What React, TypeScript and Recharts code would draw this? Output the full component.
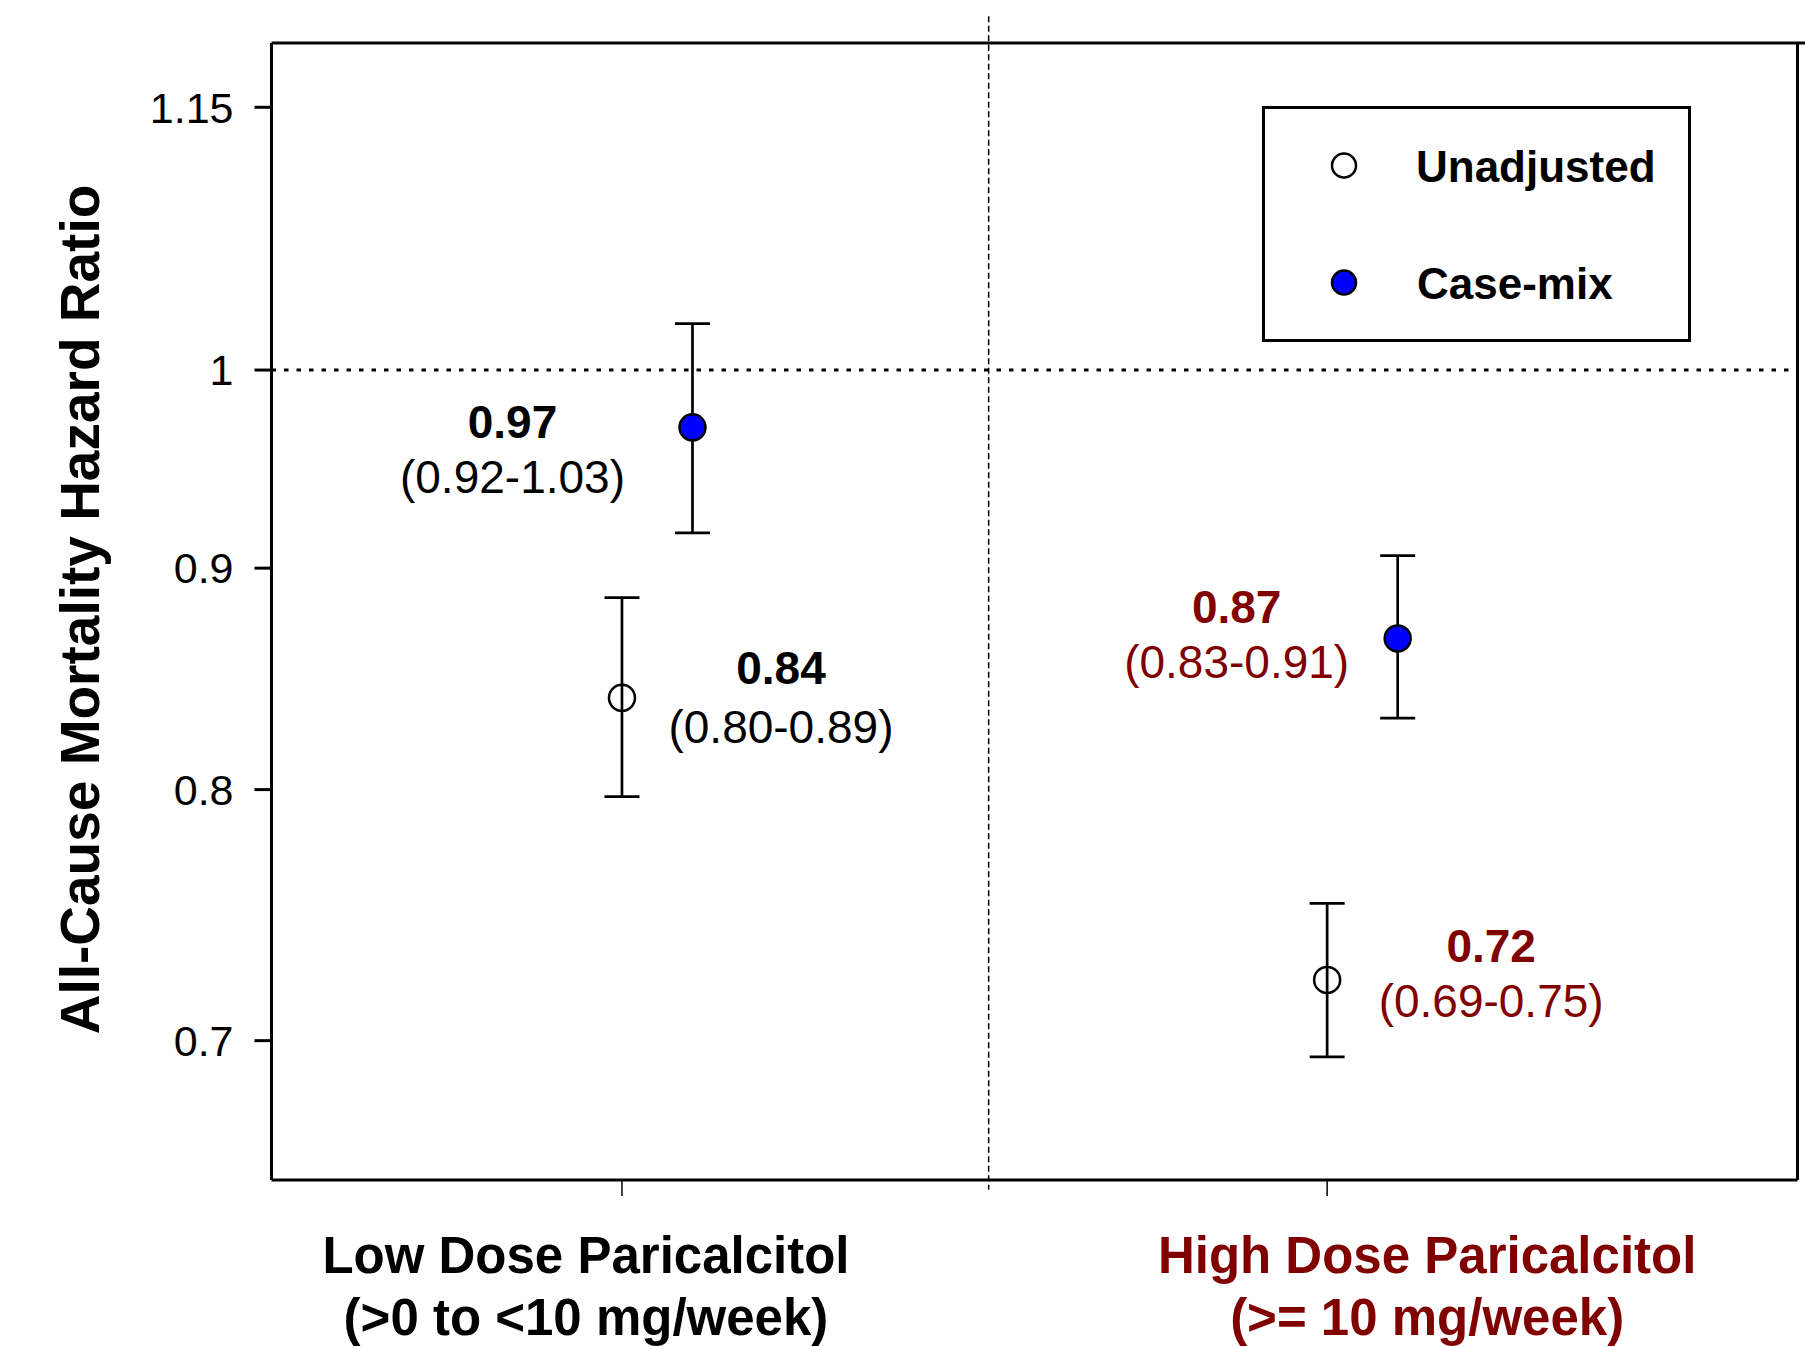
import { ScatterChart, Scatter, XAxis, YAxis, ErrorBar, ReferenceLine, Legend } from "recharts";

// groups on the x axis
const groupNames = ["Low Dose Paricalcitol", "High Dose Paricalcitol"];
const groupDoses = ["(>0 to <10 mg/week)", "(>= 10 mg/week)"];
const groupPos = [1, 2];

// unadjusted hazard ratios
const unadjustedHR = [0.84, 0.723];
const unadjustedLower = [0.797, 0.694];
const unadjustedUpper = [0.886, 0.753];
const unadjustedText = ["0.84", "0.72"];
const unadjustedCI = ["(0.80-0.89)", "(0.69-0.75)"];

// case-mix adjusted hazard ratios
const caseMixHR = [0.97, 0.867];
const caseMixLower = [0.917, 0.831];
const caseMixUpper = [1.025, 0.906];
const caseMixText = ["0.97", "0.87"];
const caseMixCI = ["(0.92-1.03)", "(0.83-0.91)"];

const yTicks = [0.7, 0.8, 0.9, 1, 1.15];
const seriesNames = ["Unadjusted", "Case-mix"];

const FONT = '"Liberation Sans", Arial, Helvetica, sans-serif';
const DARK_RED = "#800000";
const groupColors = ["#000000", DARK_RED];
const CASE_SHIFT = 0.1;
const X_DOMAIN = [0.503, 2.667];
const Y_DOMAIN = [0.65, 1.19];

const build = (
  hr: number[],
  lo: number[],
  hi: number[],
  txt: string[],
  ci: string[],
  shift: number
) =>
  hr.map((v, i) => ({
    x: groupPos[i] + shift,
    y: v,
    err: [v - lo[i], hi[i] - v],
    hrText: txt[i],
    ciText: ci[i],
    group: i,
  }));

const unadjustedData = build(unadjustedHR, unadjustedLower, unadjustedUpper, unadjustedText, unadjustedCI, 0);
const caseMixData = build(caseMixHR, caseMixLower, caseMixUpper, caseMixText, caseMixCI, CASE_SHIFT);

// label offsets relative to each point
const unadjustedLabelPos = [
  { dx: 159, dy1: -14, dy2: 45 },
  { dx: 164, dy1: -18, dy2: 37 },
];
const caseMixLabelPos = [
  { dx: -180, dy1: 11, dy2: 66 },
  { dx: -161, dy1: -15, dy2: 40 },
];

const makeShape =
  (fill: string, labelPos: { dx: number; dy1: number; dy2: number }[]) =>
  // eslint-disable-next-line @typescript-eslint/no-explicit-any
  (props: any) => {
    const { cx, cy, payload } = props;
    const p = labelPos[payload.group];
    const color = groupColors[payload.group];
    return (
      <g>
        <circle cx={cx} cy={cy} r={13} fill={fill} stroke="#000" strokeWidth={2.5} />
        <text x={cx + p.dx} y={cy + p.dy1} textAnchor="middle" fontWeight="bold" fontSize={46} fill={color}>
          {payload.hrText}
        </text>
        <text x={cx + p.dx} y={cy + p.dy2} textAnchor="middle" fontSize={46} fill={color}>
          {payload.ciText}
        </text>
      </g>
    );
  };

const xLabelShift = [-36, 100];

// eslint-disable-next-line @typescript-eslint/no-explicit-any
const XTick = (props: any) => {
  const { x, y, index } = props;
  const i = index ?? 0;
  return (
    <g>
      <text x={x + xLabelShift[i]} y={y + 77} textAnchor="middle" fontWeight="bold" fontSize={51} fill={groupColors[i]}>
        {groupNames[i]}
      </text>
      <text x={x + xLabelShift[i]} y={y + 139} textAnchor="middle" fontWeight="bold" fontSize={51} fill={groupColors[i]}>
        {groupDoses[i]}
      </text>
    </g>
  );
};

const LegendBox = () => (
  <svg width={430} height={237} style={{ display: "block" }}>
    <rect x={1.5} y={1.5} width={426} height={233} fill="#fff" stroke="#000" strokeWidth={3} />
    <circle cx={82} cy={59.5} r={12} fill="#fff" stroke="#000" strokeWidth={2.5} />
    <text x={154} y={75.5} fontSize={44} fontWeight="bold" fill="#000" fontFamily={FONT}>
      {seriesNames[0]}
    </text>
    <circle cx={82} cy={176.5} r={12} fill="#0000ff" stroke="#000" strokeWidth={2.5} />
    <text x={155} y={192.5} fontSize={44} fontWeight="bold" fill="#000" fontFamily={FONT}>
      {seriesNames[1]}
    </text>
  </svg>
);

// eslint-disable-next-line @typescript-eslint/no-explicit-any
const YTitle = (props: any) => {
  const vb = props.viewBox || { x: 71.5, y: 43, height: 1137 };
  const tx = vb.x + 27;
  const ty = vb.y + vb.height / 2 - 2;
  return (
    <text x={tx} y={ty} transform={`rotate(-90 ${tx} ${ty})`} textAnchor="middle" fontWeight="bold" fontSize={55} fill="#000">
      All-Cause Mortality Hazard Ratio
    </text>
  );
};

const App = () => {
  return (
    <div style={{ position: "absolute", left: 0, top: 0, fontFamily: FONT, background: "#fff" }}>
      <ScatterChart width={1805} height={1347} margin={{ top: 43, right: 7.5, bottom: 7, left: 71.5 }}>
        <XAxis
          type="number"
          dataKey="x"
          domain={X_DOMAIN}
          allowDataOverflow
          ticks={groupPos}
          height={160}
          tickSize={16}
          tickMargin={0}
          axisLine={{ stroke: "#000", strokeWidth: 3 }}
          tickLine={{ stroke: "#000", strokeWidth: 1.5 }}
          tick={<XTick />}
        />
        <YAxis
          type="number"
          dataKey="y"
          scale="log"
          domain={Y_DOMAIN}
          allowDataOverflow
          ticks={yTicks}
          width={200}
          tickSize={17}
          tickMargin={21}
          axisLine={{ stroke: "#000", strokeWidth: 3 }}
          tickLine={{ stroke: "#000", strokeWidth: 3 }}
          tick={{ fontSize: 43, fill: "#000" }}
          label={{ content: <YTitle /> }}
        />
        {/* top and right frame */}
        <ReferenceLine
          segment={[
            { x: X_DOMAIN[0], y: Y_DOMAIN[1] },
            { x: 2.69, y: Y_DOMAIN[1] },
          ]}
          ifOverflow="visible"
          stroke="#000"
          strokeWidth={3}
        />
        <ReferenceLine x={X_DOMAIN[1]} ifOverflow="visible" stroke="#000" strokeWidth={3} />
        <ReferenceLine y={1} stroke="#000" strokeWidth={3} strokeDasharray="4.5 8" />
        <ReferenceLine
          segment={[
            { x: 1.52, y: 1.207 },
            { x: 1.52, y: 0.6466 },
          ]}
          ifOverflow="visible"
          stroke="#000"
          strokeWidth={1.5}
          strokeDasharray="6 3.5"
        />
        <Scatter
          name={seriesNames[0]}
          data={unadjustedData}
          shape={makeShape("none", unadjustedLabelPos)}
          isAnimationActive={false}
        >
          <ErrorBar dataKey="err" direction="y" width={17.5} stroke="#000" strokeWidth={2.7} />
        </Scatter>
        <Scatter
          name={seriesNames[1]}
          data={caseMixData}
          shape={makeShape("#0000ff", caseMixLabelPos)}
          isAnimationActive={false}
        >
          <ErrorBar dataKey="err" direction="y" width={17.5} stroke="#000" strokeWidth={2.7} />
        </Scatter>
        <Legend
          layout="horizontal"
          verticalAlign="middle"
          align="center"
          content={() => <LegendBox />}
          wrapperStyle={{ left: 1262, top: 106, width: 430, height: 237 }}
        />
      </ScatterChart>
    </div>
  );
};

export default App;
